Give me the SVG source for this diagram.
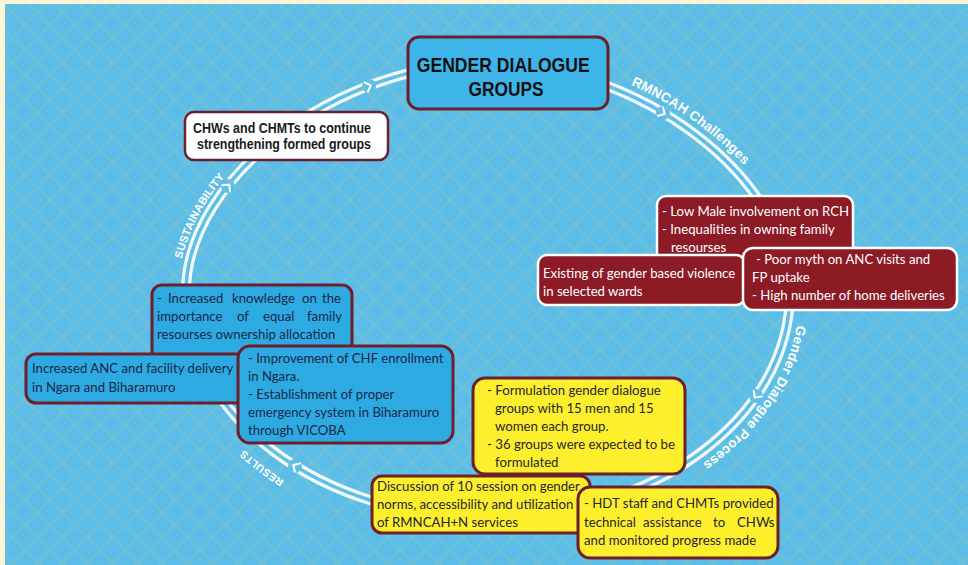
<svg xmlns="http://www.w3.org/2000/svg" width="968" height="565" viewBox="0 0 968 565">
  <defs>
    <style>
      .lbl{font-family:"Lato","Liberation Sans",sans-serif;font-size:13.2px}
      .wt{fill:#ffffff}
      .nv{fill:#1b2848}
      .dk{fill:#26262e}
      .mar rect{fill:#8c1b26;stroke:#ffffff;stroke-width:2.5}
      .blu rect{fill:#2eaae2;stroke:#6d1f2c;stroke-width:3}
      .yel rect{fill:#fdef2c;stroke:#6d1f2c;stroke-width:3}
      .ringlbl{font-family:"Liberation Sans",Arial,sans-serif;font-weight:bold;fill:#ffffff;text-anchor:middle}
      .chev path{fill:none;stroke:#ffffff;stroke-width:2;stroke-linecap:round;stroke-linejoin:round}
    </style>
    <pattern id="bgGrid" width="25" height="25" patternUnits="userSpaceOnUse">
      <rect width="25" height="25" fill="#5bbde8"/>
      <path d="M0,0 L25,25 M25,0 L0,25" stroke="#8cc5c0" stroke-width="3" opacity="0.35"/>
    </pattern>
    <!-- cycle ring, clockwise from the left -->
    <path id="ringPath" d="M 186 292 C 186 178, 337 63, 488 63 C 639 63, 790 178, 790 292 C 790 417, 655 518, 488 518 C 321 518, 186 417, 186 292 Z"/>
    <mask id="ringMask" maskUnits="userSpaceOnUse" x="0" y="0" width="968" height="565">
      <use href="#ringPath" fill="none" stroke="#ffffff" stroke-width="10"/>
      <use href="#ringPath" fill="none" stroke="#000000" stroke-width="3.5"/>
      <g fill="#000000">
        <circle cx="369" cy="86" r="7"/>
        <circle cx="228" cy="186" r="7"/>
        <circle cx="663" cy="113" r="7"/>
        <circle cx="756" cy="396" r="7"/>
        <circle cx="295" cy="466" r="7"/>
      </g>
    </mask>
  </defs>

  <!-- page -->
  <rect width="968" height="565" fill="#fdf5d6"/>
  <rect x="5" y="4" width="963" height="561" fill="url(#bgGrid)"/>

  <g id="connectors">
    <rect width="968" height="565" fill="#f0f9fd" mask="url(#ringMask)"/>
    <g class="chev">
      <path d="M-3,-5 L2,0 L-3,5" transform="translate(369 86) rotate(-20)"/>
      <path d="M-3,-5 L2,0 L-3,5" transform="translate(228 186) rotate(-51)"/>
      <path d="M-3,-5 L2,0 L-3,5" transform="translate(663 113) rotate(31)"/>
      <path d="M-3,-5 L2,0 L-3,5" transform="translate(756 396) rotate(125)"/>
      <path d="M-3,-5 L2,0 L-3,5" transform="translate(295 466) rotate(-148)"/>
    </g>
    <g class="ringlbl">
      <text font-size="11"><textPath href="#ringPath" startOffset="4.6%"><tspan dy="-8">SUSTAINABILITY</tspan></textPath></text>
      <text font-size="13.5"><textPath href="#ringPath" startOffset="37.6%"><tspan dy="-10">RMNCAH Challenges</tspan></textPath></text>
      <text font-size="13.5"><textPath href="#ringPath" startOffset="56.6%"><tspan dy="-10">Gender Dialogue Process</tspan></textPath></text>
      <text font-size="10.5"><textPath href="#ringPath" startOffset="88.6%"><tspan dy="-18">RESULTS</tspan></textPath></text>
    </g>
  </g>

  <g id="gender-dialogue-groups">
    <rect x="408" y="37" width="200" height="72" rx="11" fill="#3db5e8" stroke="#6d1f2c" stroke-width="3"/>
    <text font-family="Liberation Sans, Arial, sans-serif" font-weight="bold" font-size="20" fill="#111111" text-anchor="middle">
      <tspan x="506" y="72" textLength="173" lengthAdjust="spacingAndGlyphs">GENDER DIALOGUE</tspan>
      <tspan x="506" y="96" textLength="75" lengthAdjust="spacingAndGlyphs">GROUPS</tspan>
    </text>
  </g>

  <g id="sustainability-note">
    <rect x="185" y="112" width="203" height="48" rx="9" fill="#ffffff" stroke="#6d1f2c" stroke-width="2.5"/>
    <text font-family="Liberation Sans, Arial, sans-serif" font-weight="bold" font-size="14" fill="#1a1a1a" text-anchor="middle">
      <tspan x="284" y="133" textLength="178" lengthAdjust="spacingAndGlyphs">CHWs and CHMTs to continue</tspan>
      <tspan x="284" y="149" textLength="174" lengthAdjust="spacingAndGlyphs">strengthening formed groups</tspan>
    </text>
  </g>

  <g id="challenge-male-involvement" class="mar">
    <rect x="657" y="196" width="196" height="66" rx="9"/>
    <text class="lbl wt">
      <tspan x="662" y="216">- Low Male involvement on RCH</tspan>
      <tspan x="662" y="234">- Inequalities in owning family</tspan>
      <tspan x="671" y="252">resourses</tspan>
    </text>
  </g>

  <g id="challenge-gbv" class="mar">
    <rect x="538" y="255" width="207" height="50" rx="9"/>
    <text class="lbl wt">
      <tspan x="543" y="278">Existing of gender based violence</tspan>
      <tspan x="543" y="296">in selected wards</tspan>
    </text>
  </g>

  <g id="challenge-anc-myth" class="mar">
    <rect x="743" y="248" width="214" height="62" rx="10"/>
    <text class="lbl wt">
      <tspan x="756" y="264">- Poor myth on ANC visits and</tspan>
      <tspan x="752" y="282">FP uptake</tspan>
      <tspan x="752" y="300">- High number of home deliveries</tspan>
    </text>
  </g>

  <g id="result-knowledge" class="blu">
    <rect x="152" y="285" width="200" height="80" rx="10"/>
    <text class="lbl nv">
      <tspan x="157" y="303">-</tspan><tspan x="168" y="303">Increased</tspan><tspan x="232" y="303">knowledge</tspan><tspan x="302" y="303">on</tspan><tspan x="322" y="303">the</tspan>
      <tspan x="157" y="321">importance</tspan><tspan x="237" y="321">of</tspan><tspan x="263" y="321">equal</tspan><tspan x="307" y="321">family</tspan>
      <tspan x="157" y="339">resourses ownership allocation</tspan>
    </text>
  </g>

  <g id="result-anc-delivery" class="blu">
    <rect x="26" y="354" width="225" height="49" rx="10"/>
    <text class="lbl nv">
      <tspan x="32" y="373">Increased ANC and facility delivery</tspan>
      <tspan x="32" y="392">in Ngara and Biharamuro</tspan>
    </text>
  </g>

  <g id="result-chf-emergency" class="blu">
    <rect x="238" y="346" width="215" height="97" rx="12"/>
    <text class="lbl nv">
      <tspan x="248" y="363">- Improvement of CHF enrollment</tspan>
      <tspan x="248" y="381">in Ngara.</tspan>
      <tspan x="248" y="399">- Establishment of proper</tspan>
      <tspan x="248" y="417">emergency system in Biharamuro</tspan>
      <tspan x="248" y="435">through VICOBA</tspan>
    </text>
  </g>

  <g id="process-formulation" class="yel">
    <rect x="473" y="378" width="212" height="96" rx="12"/>
    <text class="lbl dk">
      <tspan x="487" y="395">- Formulation gender dialogue</tspan>
      <tspan x="495" y="413">groups with 15 men and 15</tspan>
      <tspan x="495" y="431">women each group.</tspan>
      <tspan x="487" y="449">- 36 groups were expected to be</tspan>
      <tspan x="495" y="467">formulated</tspan>
    </text>
  </g>

  <g id="process-discussion" class="yel">
    <rect x="372" y="476" width="218" height="57" rx="10"/>
    <text class="lbl dk">
      <tspan x="377" y="491">Discussion of 10 session on gender</tspan>
      <tspan x="377" y="509">norms, accessibility and utilization</tspan>
      <tspan x="377" y="527">of RMNCAH+N services</tspan>
    </text>
  </g>

  <g id="process-technical-assistance" class="yel">
    <rect x="578" y="487" width="200" height="71" rx="12"/>
    <text class="lbl dk">
      <tspan x="584" y="508">- HDT staff and CHMTs provided</tspan>
      <tspan x="584" y="527">technical</tspan><tspan x="643" y="527">assistance</tspan><tspan x="713" y="527">to</tspan><tspan x="737" y="527">CHWs</tspan>
      <tspan x="584" y="545">and monitored progress made</tspan>
    </text>
  </g>
</svg>
